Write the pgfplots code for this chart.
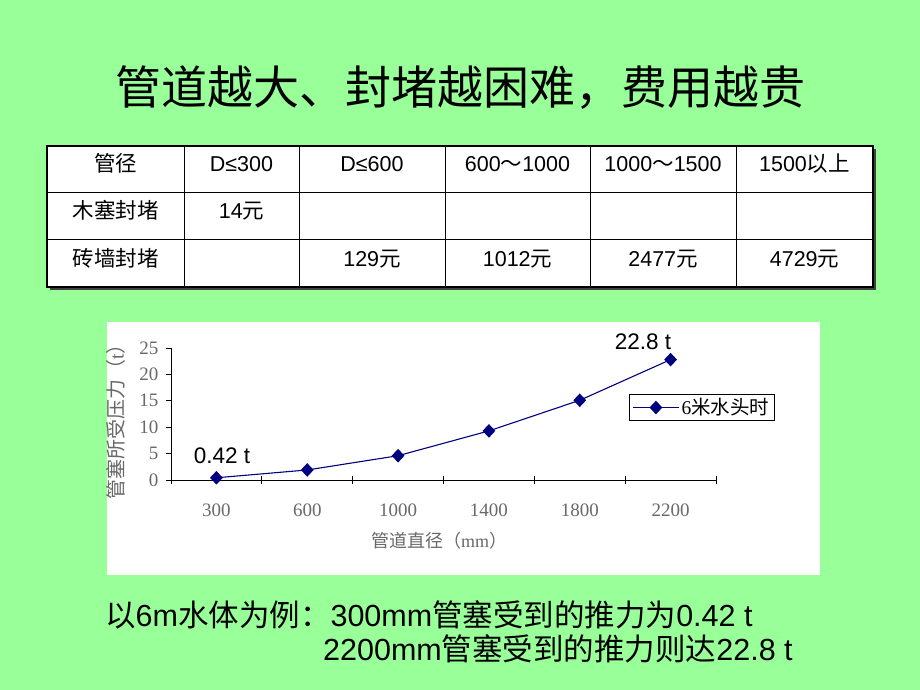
\documentclass[border=0pt]{standalone}
\usepackage{fontspec}
\setmainfont{Liberation Sans}
\newfontfamily\cjk{Noto Sans CJK SC}
\newfontfamily\tnr{Liberation Serif}
\usepackage{pgfplots}
\pgfplotsset{compat=1.18}
\definecolor{slidegreen}{RGB}{153,255,153}
\definecolor{navyline}{RGB}{0,0,128}
\definecolor{labelgray}{RGB}{105,105,105}

\begin{document}
\begin{tikzpicture}[x=1pt,y=1pt]
\useasboundingbox (0,0) rectangle (920,690);
\fill[slidegreen] (0,0) rectangle (920,690);

% title
\node[font={\fontsize{46}{50}\selectfont\cjk}] at (460,602) {管道越大、封堵越困难，费用越贵};

% cost table
\fill[black!75] (50,400) rectangle (876,541);
\filldraw[fill=white,draw=black,line width=1.6pt] (47,403) rectangle (873,544);
\foreach \x in {184,299,445,590,736} \draw[line width=0.9pt] (\x,403) -- (\x,544);
\foreach \y in {498,451} \draw[line width=0.9pt] (47,\y) -- (873,\y);
\begin{scope}[every node/.style={anchor=base,font={\fontsize{21.5}{24}\selectfont}}]
  \node at (115.5,518) {\cjk 管径};
  \node at (241.5,518) {D≤300};
  \node at (372,518) {D≤600};
  \node at (517.5,518) {600{\cjk ～}1000};
  \node at (663,518) {1000{\cjk ～}1500};
  \node at (804.5,518) {1500{\cjk 以上}};
  \node at (115.5,471) {\cjk 木塞封堵};
  \node at (241.5,471) {14{\cjk 元}};
  \node at (115.5,423) {\cjk 砖墙封堵};
  \node at (372,423) {129{\cjk 元}};
  \node at (517.5,423) {1012{\cjk 元}};
  \node at (663,423) {2477{\cjk 元}};
  \node at (804.5,423) {4729{\cjk 元}};
\end{scope}

% chart
\fill[white] (107,115) rectangle (820,368);
\begin{axis}[
    at={(171pt,210pt)}, anchor=south west,
    scale only axis, width=545pt, height=132pt,
    xmin=-0.5, xmax=5.5, ymin=0, ymax=25,
    axis x line=bottom, axis y line=left,
    axis line style={-, line width=0.8pt, black},
    xtick={0,1,2,3,4,5},
    xticklabels={300,600,1000,1400,1800,2200},
    major x tick style={draw=none},
    minor xtick={-0.5,0.5,1.5,2.5,3.5,4.5,5.5},
    minor tick length=8pt,
    minor x tick style={line width=0.8pt, black, yshift=4pt},
    ytick={0,5,10,15,20,25},
    tick align=outside, major tick length=5pt,
    y tick style={line width=0.8pt, black},
    /pgf/number format/assume math mode=true,
    ticklabel style={font={\fontsize{19}{19}\selectfont\tnr}, text=labelgray},
    xticklabel style={yshift=-15pt},
    yticklabel style={xshift=-4pt},
    clip=false,
    legend style={at={(0.974,0.549)}, anchor=center, draw=black, line width=1.5pt,
        fill=white, font={\fontsize{19.5}{21}\selectfont}, inner xsep=3pt, inner ysep=2pt},
    legend image code/.code={\draw[mark repeat=2,mark phase=2,#1]
        plot coordinates {(0pt,0pt) (23pt,0pt) (46pt,0pt)};},
]
\addplot[navyline, line width=1.1pt, mark=diamond*, mark size=6pt,
    mark options={fill=navyline, solid, xscale=1.25}]
    coordinates {(0,0.42) (1,1.9) (2,4.6) (3,9.3) (4,15.1) (5,22.8)};
\addlegendentry{{\tnr 6}{\cjk 米水头时}}
\end{axis}

% axis titles and annotations
\node[rotate=90, text=labelgray, font={\fontsize{20}{20}\selectfont}] at (116,273)
    {{\cjk 管塞所受压力（}{\tnr t}{\cjk ）}};
\node[text=labelgray, font={\fontsize{18}{18}\selectfont}] at (439,149)
    {{\cjk 管道直径（}{\tnr mm}{\cjk ）}};
\node[font={\fontsize{22.5}{24}\selectfont}] at (643,348) {22.8 t};
\node[font={\fontsize{22.5}{24}\selectfont}] at (222,234) {0.42 t};

% bottom text
\node[anchor=base west, font={\fontsize{30.5}{34}\selectfont}, inner sep=0pt] at (105,63)
    {{\cjk 以}6m{\cjk 水体为例：}300mm{\cjk 管塞受到的推力为}0.42 t};
\node[anchor=base west, font={\fontsize{30.5}{34}\selectfont}, inner sep=0pt] at (323,29)
    {2200mm{\cjk 管塞受到的推力则达}22.8 t};
\end{tikzpicture}
\end{document}
